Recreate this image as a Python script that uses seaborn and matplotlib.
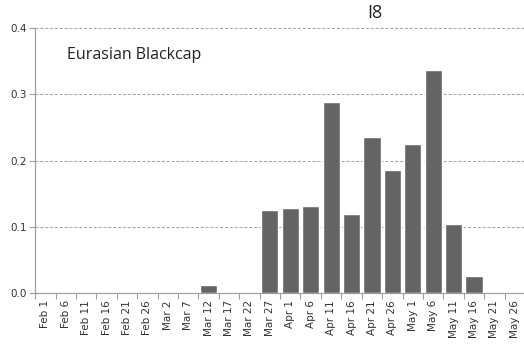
import matplotlib
matplotlib.use("Agg")
import matplotlib.pyplot as plt
import seaborn as sns
import pandas as pd
import numpy as np

sns.set_theme(style="white")

dates = ["Feb 1", "Feb 6", "Feb 11", "Feb 16", "Feb 21", "Feb 26", "Mar 2", "Mar 7",
         "Mar 12", "Mar 17", "Mar 22", "Mar 27", "Apr 1", "Apr 6", "Apr 11", "Apr 16",
         "Apr 21", "Apr 26", "May 1", "May 6", "May 11", "May 16", "May 21", "May 26"]
values = [0, 0, 0, 0, 0, 0, 0, 0,
          0.012, 0, 0, 0.125, 0.128, 0.131, 0.288, 0.119,
          0.235, 0.186, 0.225, 0.337, 0.104, 0.026, 0, 0]
yticks = [0.0, 0.1, 0.2, 0.3, 0.4]

df = pd.DataFrame({"date": dates, "value": values})

fig = plt.figure(figsize=(5.24, 3.51), dpi=100)
ax = fig.add_axes([0.067, 0.165, 0.935, 0.755])

sns.barplot(data=df, x="date", y="value", color="#646464", saturation=1,
            width=0.84, ax=ax, zorder=3)

ax.set_ylim(0, 0.4)
ax.set_xlim(-0.5, len(dates) - 0.5)
ax.set_yticks(yticks)
ax.set_yticklabels([f"{t:.1f}" for t in yticks], fontsize=7.5, color="#333333",
                   family="DejaVu Sans")
for t in yticks[1:]:
    ax.axhline(t, color="#a0a0a0", linestyle=(0, (3, 2)), linewidth=0.7, zorder=1)

# category labels centred, tick marks on the boundaries
ax.set_xticks(np.arange(len(dates)))
ax.set_xticklabels(dates, rotation=90, fontsize=7.5, color="#333333",
                   family="DejaVu Sans")
ax.tick_params(axis="x", which="major", bottom=True, length=0, pad=5)
ax.set_xticks(np.arange(len(dates) + 1) - 0.5, minor=True)
ax.tick_params(axis="x", which="minor", bottom=True, length=4, color="#a0a0a0",
               width=0.8, direction="out")
ax.tick_params(axis="y", which="major", left=True, length=4, color="#a0a0a0",
               width=0.8, pad=2, direction="out")

ax.set_xlabel("")
ax.set_ylabel("")
for s in ["top", "right"]:
    ax.spines[s].set_visible(False)
for s in ["left", "bottom"]:
    ax.spines[s].set_color("#a0a0a0")
    ax.spines[s].set_linewidth(0.9)

fig.text(0.716, 0.962, "I8", ha="center", va="center", fontsize=13,
         family="Open Sans", color="#222222")
ax.text(0.065, 0.9, "Eurasian Blackcap", transform=ax.transAxes, ha="left",
        va="center", fontsize=11.5, family="Open Sans", color="#222222")

fig.savefig("out.png", dpi=100)
